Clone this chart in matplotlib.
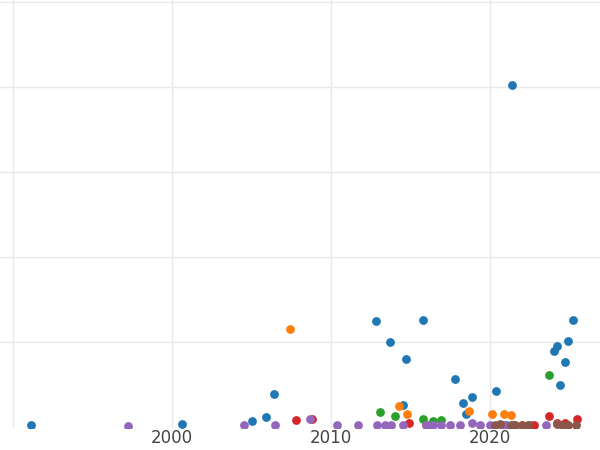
import matplotlib
matplotlib.use("Agg")
import matplotlib.pyplot as plt

blue_x = [1991.1, 2000.6, 2005.0, 2005.9, 2006.4, 2012.8, 2013.7, 2014.5, 2014.7, 2015.8, 2017.8, 2018.3, 2018.5, 2018.9, 2020.4, 2021.4, 2024.0, 2024.2, 2024.4, 2024.7, 2024.9, 2025.2, 2016.2, 2021.0, 2022.5]
blue_y = [0.03, 0.04, 0.07, 0.12, 0.39, 1.25, 1.0, 0.26, 0.8, 1.26, 0.56, 0.28, 0.16, 0.35, 0.42, 4.02, 0.9, 0.95, 0.49, 0.76, 1.01, 1.26, 0.02, 0.02, 0.02]
orange_x = [2007.4, 2014.3, 2014.8, 2018.7, 2020.1, 2020.9, 2021.3, 2016.0, 2022.0]
orange_y = [1.15, 0.25, 0.16, 0.19, 0.16, 0.16, 0.14, 0.02, 0.02]
green_x = [2013.1, 2014.0, 2015.8, 2016.4, 2016.9, 2023.7, 2021.5]
green_y = [0.18, 0.13, 0.09, 0.07, 0.08, 0.61, 0.02]
red_x = [2007.8, 2008.8, 2014.9, 2023.7, 2025.5, 2024.7, 2024.2, 2022.8]
red_y = [0.08, 0.10, 0.05, 0.13, 0.10, 0.05, 0.05, 0.02]
purple_x = [1997.2, 2004.5, 2006.5, 2008.7, 2010.4, 2011.7, 2012.9, 2013.4, 2013.8, 2014.5, 2016.0, 2016.4, 2016.9, 2017.5, 2018.1, 2018.9, 2019.4, 2020.0, 2020.9, 2023.5]
purple_y = [0.01, 0.02, 0.02, 0.09, 0.03, 0.03, 0.02, 0.03, 0.02, 0.03, 0.03, 0.03, 0.03, 0.03, 0.02, 0.05, 0.02, 0.02, 0.03, 0.03]
brown_x = [2020.3, 2020.6, 2021.3, 2021.6, 2022.0, 2022.4, 2024.2, 2024.5, 2024.9, 2025.4]
brown_y = [0.03, 0.04, 0.03, 0.03, 0.03, 0.03, 0.04, 0.03, 0.03, 0.03]

fig = plt.figure(figsize=(6, 4.5), dpi=100)
ax = fig.add_axes([0, 22/450, 1, 428/450])
for xs, ys, c in [(blue_x, blue_y, '#1f77b4'), (orange_x, orange_y, '#ff7f0e'),
                  (green_x, green_y, '#2ca02c'), (red_x, red_y, '#d62728'),
                  (purple_x, purple_y, '#9467bd'), (brown_x, brown_y, '#8c564b')]:
    ax.scatter(xs, ys, s=40, color=c, zorder=3, linewidths=0)
ax.set_xlim(1989.18, 2026.92)
ax.set_ylim(-0.01, 5.02)
ax.set_xticks([1990, 2000, 2010, 2020])
ax.set_xticklabels(['', '2000', '2010', '2020'], fontsize=12, color='#444444')
ax.set_yticks([1, 2, 3, 4, 5])
ax.set_yticklabels([])
ax.tick_params(length=0, pad=1)
ax.grid(True, color='#e8e8e8', linewidth=1)
for s in ax.spines.values():
    s.set_visible(False)
fig.savefig("out.png")
